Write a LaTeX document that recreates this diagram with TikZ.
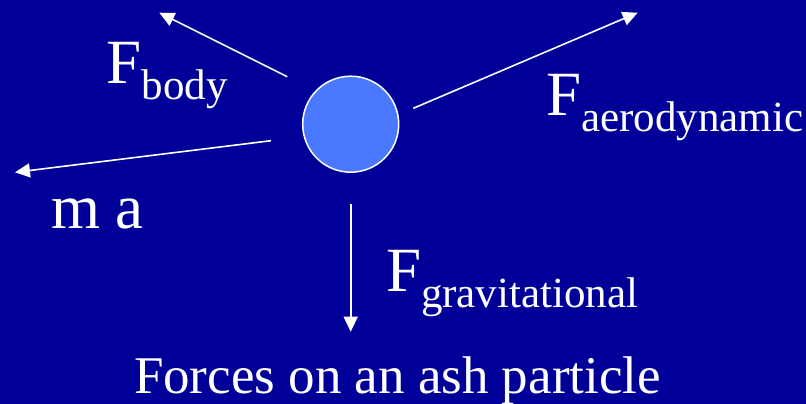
\documentclass[tikz,border=0pt]{standalone}
\usepackage{fontspec}
\setmainfont{Liberation Serif}
\usetikzlibrary{arrows.meta}
\definecolor{bgblue}{HTML}{000099}
\definecolor{ballblue}{HTML}{4A78FF}
\tikzset{
  force/.style={draw=white, line width=1.6pt, -{Triangle[length=15pt,width=14pt]}},
  lbl/.style={text=white, anchor=base west, inner sep=0pt, outer sep=0pt},
}
\newcommand{\bigF}{{\fontsize{63}{63}\selectfont F}}
\newcommand{\subtx}[1]{\raisebox{-15.5pt}{\fontsize{43}{43}\selectfont #1}}
\begin{document}
\begin{tikzpicture}[x=1pt,y=-1pt]
\fill[bgblue] (0,0) rectangle (806,404);
\useasboundingbox (0,0) rectangle (806,404);
\node[circle, draw=white, line width=1.5pt, fill=ballblue, minimum size=96pt, inner sep=0pt] (ball) at (350.7,124.2) {};
\coordinate (bodyS) at (287.3,76.7);
\coordinate (bodyE) at (159.3,12.7);
\coordinate (aeroS) at (413.3,108.3);
\coordinate (aeroE) at (637.7,12.7);
\coordinate (maS) at (271,140.7);
\coordinate (maE) at (15,172.3);
\coordinate (gravS) at (350.7,204);
\coordinate (gravE) at (350.7,331.7);
\draw[force] (bodyS) -- (bodyE);
\draw[force] (aeroS) -- (aeroE);
\draw[force] (maS) -- (maE);
\draw[force] (gravS) -- (gravE);
\node[lbl] (fbody) at (106.5,84) {\bigF\subtx{body}};
\node[lbl] (faero) at (546,115.7) {\bigF\subtx{aerodynamic}};
\node[lbl] (fgrav) at (386,291.7) {\bigF\subtx{gravitational}};
\node[lbl] (ma) at (51,228.3) {\fontsize{63}{63}\selectfont m a};
\node[lbl] (caption) at (134,393.3) {\fontsize{53}{53}\selectfont Forces on an ash particle};
\end{tikzpicture}
\end{document}
